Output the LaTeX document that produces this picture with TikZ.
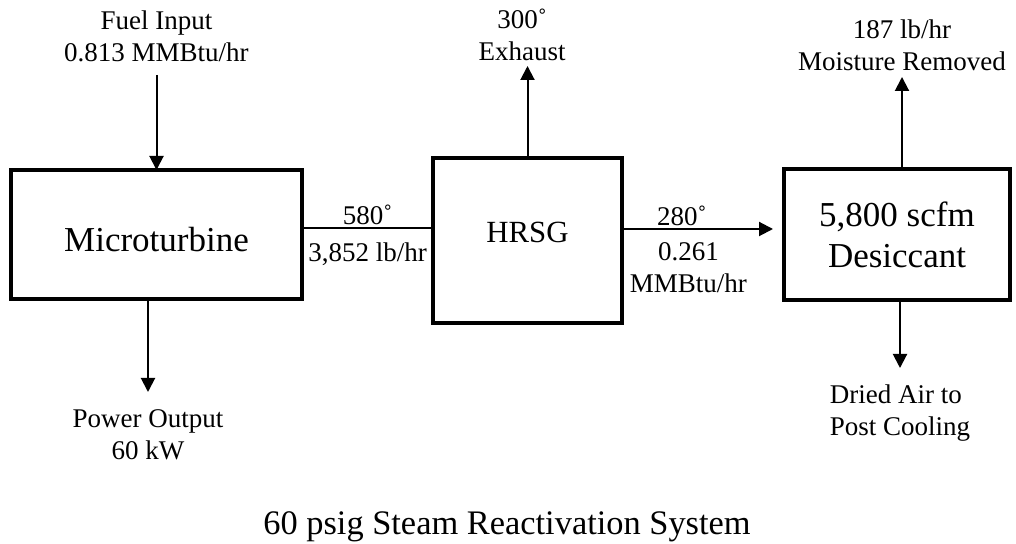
\documentclass[tikz,border=0pt]{standalone}
\usepackage{fontspec}
\setmainfont{Liberation Serif}
\usetikzlibrary{arrows.meta,positioning}

\begin{document}
\begin{tikzpicture}[node distance=50pt,
  box/.style={draw, line width=1.6pt, outer sep=0pt, align=center,
              font=\fontsize{17.5}{20.5}\selectfont},
  lbl/.style={inner sep=0pt, align=center, font=\fontsize{13.5}{16}\selectfont},
  arr/.style={-{Triangle[length=7pt,width=7pt]}, line width=1pt},
  flow/.style={line width=1pt}]
\useasboundingbox (0,0) rectangle (508pt,-272pt);
% the three units
\node[box, minimum width=145.5pt, minimum height=64.5pt, text height=17.5pt, text depth=0pt]
  (mt) at (78.25pt,-117.25pt) {Microturbine};
\node[box, right=65.5pt of mt, yshift=-3pt, minimum width=94.5pt, minimum height=82.5pt,
      font=\fontsize{15.4}{18}\selectfont, text height=10.4pt, text depth=8.7pt] (hrsg) {HRSG};
\node[box, right=81pt of hrsg, yshift=3pt, minimum width=113pt, minimum height=65.5pt]
  (desic) {5,800 scfm\\Desiccant};
% streams in and out
\node[lbl, above=54pt of mt] (fuel) {Fuel Input\\0.813 MMBtu/hr};
\node[lbl, below=55pt of mt, xshift=-4.25pt] (power) {Power Output\\60 kW};
\node[lbl, above=48.5pt of hrsg, xshift=-2.75pt] (exhaust) {300˚\\Exhaust};
\node[lbl, above=49pt of desic, xshift=2.5pt] (moist) {187 lb/hr\\Moisture Removed};
\node[lbl, below=42.3pt of desic, xshift=1.5pt, align=left] (dried) {Dried Air to\\Post Cooling};
\node[below=94.25pt of hrsg, xshift=-10.25pt, inner sep=0pt, font=\fontsize{17.2}{20}\selectfont]
  (title) {60 psig Steam Reactivation System};
\draw[arr, shorten <=6.5pt] (fuel.south) -- (fuel.south |- mt.north);
\draw[arr, shorten >=8.5pt] (power.north |- mt.south) -- (power.north);
\draw[arr, shorten >=2.5pt] (hrsg.north) -- (hrsg.north |- exhaust.south);
\draw[arr, shorten >=3pt] (moist.south |- desic.north) -- (moist.south);
\draw[arr, shorten >=8.3pt] (dried.north |- desic.south) -- (dried.north);
\draw[flow] ([yshift=3.25pt]mt.east) --
  node[lbl, above, inner ysep=1pt] (t580) {580˚}
  node[lbl, below, inner ysep=6.8pt] (m580) {3,852 lb/hr}
  ([yshift=3.25pt]mt.east -| hrsg.west);
\draw[arr, shorten >=5.5pt] ([yshift=5.75pt]hrsg.east) --
  node[lbl, above, inner ysep=1pt, pos=0.37] (t280) {280˚}
  node[lbl, below, inner ysep=6.4pt, pos=0.41] (m280) {0.261\\MMBtu/hr}
  ([yshift=5.75pt]hrsg.east -| desic.west);
\end{tikzpicture}
\end{document}
